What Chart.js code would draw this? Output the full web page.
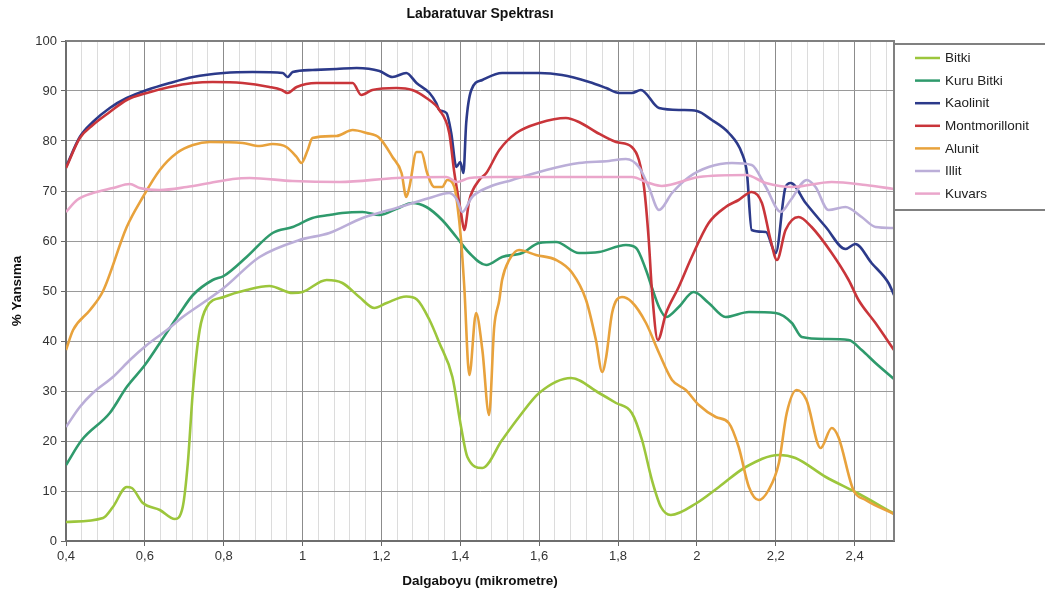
<!DOCTYPE html>
<html>
<head>
<meta charset="utf-8">
<script src="https://cdn.jsdelivr.net/npm/chart.js@4.4.1/dist/chart.umd.min.js"></script>
<style>
html,body{margin:0;padding:0;background:#fff;}
canvas{display:block;}
</style>
</head>
<body>
<canvas id="c" width="1045" height="598"></canvas>
<script>
const TITLE = 'Labaratuvar Spektrası';
const X_TITLE = 'Dalgaboyu (mikrometre)';
const Y_TITLE = '% Yansıma';
const seriesNames = ['Bitki', 'Kuru Bitki', 'Kaolinit', 'Montmorillonit', 'Alunit', 'Illit', 'Kuvars'];
const seriesColors = ['#9cc63c', '#2f9a6c', '#2c3a8a', '#c9353a', '#e8a23c', '#bbaed8', '#eaa6cb'];

const bitkiX = [0.40,0.494,0.519,0.554,0.567,0.595,0.638,0.676,0.696,0.709,0.722,0.739,0.757,0.80,0.858,0.916,0.975,1.0,1.061,1.101,1.144,1.182,1.213,1.263,1.29,1.322,1.347,1.38,1.402,1.418,1.456,1.506,1.549,1.60,1.681,1.752,1.795,1.835,1.861,1.886,1.909,1.934,2.0,2.056,2.124,2.208,2.25,2.327,2.402,2.5];
const bitkiY = [3.8,4.6,6.8,10.8,10.6,7.6,6.2,4.4,6.8,15.6,30.2,42.2,46.8,48.8,50.2,51,49.6,49.8,52.2,51.6,48.8,46.6,47.6,48.9,48.3,44.2,39.6,32.8,22.8,16.8,14.6,20.2,24.8,29.6,32.6,29.6,27.6,25.6,20.2,12.2,6.8,5.2,7.6,10.8,14.8,17.2,16.6,12.8,9.8,5.5];

const kuruX = [0.40,0.44,0.511,0.554,0.60,0.638,0.689,0.722,0.772,0.80,0.858,0.924,0.975,1.025,1.068,1.10,1.152,1.195,1.24,1.278,1.314,1.354,1.39,1.423,1.466,1.506,1.557,1.60,1.643,1.701,1.752,1.82,1.846,1.871,1.886,1.904,1.922,1.954,1.992,2.03,2.073,2.132,2.20,2.241,2.266,2.327,2.385,2.418,2.453,2.5];
const kuruY = [15.2,20.2,25.6,30.8,35.2,39.6,45.6,49.2,52.2,53,56.8,61.6,62.8,64.6,65.2,65.6,65.8,65.2,66.5,67.6,66.8,64.2,60.8,57.6,55.2,56.8,57.6,59.6,59.8,57.6,57.8,59.2,58.6,54.2,50.7,46.8,44.8,46.8,49.8,47.6,44.8,45.8,45.6,43.6,40.8,40.4,40.2,38.2,35.6,32.4];

const kaolinitX = [0.40,0.435,0.468,0.511,0.554,0.605,0.663,0.722,0.80,0.873,0.95,0.962,0.975,1.025,1.086,1.137,1.195,1.228,1.263,1.289,1.322,1.339,1.347,1.365,1.377,1.39,1.40,1.408,1.415,1.428,1.456,1.506,1.60,1.658,1.727,1.77,1.803,1.835,1.858,1.904,1.962,2.0,2.038,2.081,2.114,2.127,2.139,2.175,2.20,2.225,2.238,2.276,2.327,2.377,2.402,2.443,2.486,2.5];
const kaolinitY = [74.8,80.8,83.8,86.6,88.6,90.2,91.6,92.8,93.6,93.8,93.6,92.8,93.8,94.2,94.4,94.6,94,92.8,93.6,91.6,89.6,87.6,86.2,85.6,81.6,74.8,75.8,73.6,83.6,90.2,92.2,93.6,93.6,93.2,91.8,90.6,89.6,89.6,90.2,86.6,86.2,86,84.2,81.6,77.6,73.6,62.2,61.8,57.6,70.8,71.6,67.6,62.8,58.4,59.4,55.6,51.6,49.2];

const montX = [0.40,0.435,0.468,0.511,0.554,0.605,0.663,0.722,0.772,0.848,0.916,0.947,0.962,0.985,1.035,1.127,1.149,1.177,1.238,1.278,1.314,1.347,1.372,1.385,1.402,1.41,1.423,1.448,1.466,1.499,1.542,1.60,1.668,1.701,1.744,1.795,1.835,1.853,1.866,1.878,1.886,1.901,1.922,1.954,1.987,2.03,2.073,2.106,2.139,2.165,2.187,2.203,2.225,2.258,2.291,2.342,2.385,2.41,2.453,2.5];
const montY = [74.6,80.6,83.2,85.8,88.2,89.6,90.8,91.6,91.8,91.6,90.8,90.2,89.6,90.8,91.6,91.6,89.2,90.2,90.6,90.2,88.6,86.2,81.6,73.6,65.6,62.2,68.2,72.2,73.6,78.2,81.6,83.6,84.6,83.8,81.8,79.8,78.8,76.2,70.8,60.2,50.2,40.2,45.6,50.8,56.8,63.6,66.8,68.2,69.8,67.6,60.2,56.2,62.2,64.8,62.8,57.6,52.2,48.2,43.6,38.2];

const alunitX = [0.40,0.418,0.461,0.494,0.554,0.595,0.638,0.681,0.722,0.765,0.848,0.891,0.924,0.959,0.985,0.997,1.013,1.025,1.086,1.127,1.162,1.195,1.228,1.251,1.263,1.271,1.289,1.301,1.316,1.334,1.354,1.367,1.385,1.392,1.402,1.41,1.423,1.44,1.456,1.473,1.486,1.499,1.506,1.524,1.549,1.592,1.643,1.684,1.719,1.744,1.76,1.77,1.785,1.81,1.835,1.871,1.904,1.937,1.972,2.005,2.048,2.081,2.106,2.132,2.157,2.182,2.208,2.228,2.253,2.278,2.314,2.342,2.359,2.397,2.428,2.5];
const alunitY = [38.2,42.2,46.2,50,62.8,68.8,74.2,77.6,79.2,79.8,79.6,79,79.4,78.8,76.8,75.6,78.2,80.6,81,82.2,81.6,80.6,76.8,73.6,68.8,70.8,77.8,77.8,73.6,70.8,70.8,72.2,70.8,67.6,60.2,51,33.2,45.6,38.2,25.2,42.8,48.2,52.2,56.2,58.2,57.2,56.2,53.6,48.2,40.2,33.8,36.8,45.6,48.8,47.8,43.6,37.6,32.2,30.2,27.2,24.8,23.6,18.8,10.8,8.2,10.2,15.6,25.6,30.2,28.2,18.6,22.6,20.8,10.2,8.2,5.4];

const illitX = [0.40,0.435,0.468,0.519,0.562,0.605,0.656,0.696,0.747,0.80,0.891,0.992,1.068,1.152,1.238,1.322,1.372,1.392,1.405,1.43,1.473,1.532,1.618,1.701,1.777,1.82,1.853,1.878,1.904,1.937,1.98,2.03,2.089,2.139,2.175,2.213,2.238,2.279,2.301,2.334,2.377,2.418,2.453,2.5];
const illitY = [22.8,26.8,29.6,32.8,36.2,39.2,42.2,44.8,47.6,50.6,56.8,60.2,61.6,64.6,66.6,68.6,69.6,68.2,65.8,68.8,70.8,72.2,74.2,75.6,76,76.4,74.8,70.8,66.2,69.6,72.8,74.8,75.6,75.2,70.8,65.8,68.2,72.2,70.8,66.2,66.8,64.8,62.8,62.6];

const kuvarsX = [0.40,0.428,0.468,0.519,0.562,0.587,0.638,0.706,0.765,0.823,0.866,0.975,1.094,1.238,1.365,1.392,1.423,1.491,1.777,1.835,1.878,1.911,2.005,2.124,2.175,2.241,2.342,2.428,2.5];
const kuvarsY = [65.8,68.2,69.6,70.6,71.4,70.6,70.2,70.8,71.6,72.4,72.6,72,71.8,72.6,72.8,71.8,72.6,72.8,72.8,72.8,71.6,71,72.8,73.2,71.6,70.8,71.8,71.2,70.4];

const seriesX = [bitkiX, kuruX, kaolinitX, montX, alunitX, illitX, kuvarsX];
const seriesY = [bitkiY, kuruY, kaolinitY, montY, alunitY, illitY, kuvarsY];

const X_MIN = 0.4, X_MAX = 2.5, X_MINOR = 0.04;
const Y_MIN = 0, Y_MAX = 100, Y_STEP = 10;

const FONT = '"Liberation Sans", Arial, sans-serif';
const isMajor = v => Math.abs(v * 5 - Math.round(v * 5)) < 1e-6;
const fmt = v => String(Math.round(v * 10) / 10).replace('.', ',');

const frame = {
  id: 'frame',
  afterDraw(chart) {
    const c = chart.ctx, a = chart.chartArea;
    c.save();
    c.strokeStyle = '#808080';
    c.lineWidth = 2;
    c.beginPath();
    c.moveTo(a.left, a.top); c.lineTo(a.right, a.top); c.lineTo(a.right, a.bottom);
    c.stroke();
    // legend box
    const lx = a.right, ly = 44, lw = 200, lh = 166;
    c.fillStyle = '#fff';
    c.fillRect(lx, ly, lw, lh);
    c.strokeRect(lx, ly, lw, lh);
    c.font = '13.5px ' + FONT;
    c.textBaseline = 'middle';
    c.textAlign = 'left';
    seriesNames.forEach((n, i) => {
      const y = 58 + i * 22.6;
      c.strokeStyle = seriesColors[i];
      c.lineWidth = 2.5;
      c.beginPath(); c.moveTo(lx + 21, y); c.lineTo(lx + 46, y); c.stroke();
      c.fillStyle = '#222';
      c.fillText(n, lx + 51, y + 0.5);
    });
    c.restore();
  }
};

new Chart(document.getElementById('c'), {
  type: 'line',
  data: {
    datasets: seriesNames.map((n, i) => ({
      label: n,
      data: seriesX[i].map((x, j) => ({ x: x, y: seriesY[i][j] })),
      borderColor: seriesColors[i],
      backgroundColor: seriesColors[i],
      borderWidth: 2.6,
      pointRadius: 0,
      fill: false,
      cubicInterpolationMode: 'monotone',
      order: seriesNames.length - i
    }))
  },
  options: {
    responsive: false,
    animation: false,
    events: [],
    layout: { padding: { left: 0, right: 151, top: 0, bottom: 0 } },
    plugins: {
      legend: { display: false },
      tooltip: { enabled: false },
      title: {
        display: true, text: TITLE, fullSize: false, color: '#111',
        font: { family: FONT, size: 14, weight: 'bold' },
        padding: { top: 5.6, bottom: 18.6 }
      }
    },
    scales: {
      x: {
        type: 'linear', min: X_MIN, max: X_MAX,
        afterBuildTicks: s => {
          const t = [];
          for (let i = 0; X_MIN + i * X_MINOR < X_MAX + 1e-9; i++) t.push({ value: +(X_MIN + i * X_MINOR).toFixed(2) });
          if (t[t.length - 1].value < X_MAX) t.push({ value: X_MAX });
          s.ticks = t;
        },
        afterFit: s => { s.height = 57; },
        ticks: {
          autoSkip: false, maxRotation: 0, minRotation: 0, padding: 3,
          color: '#333', font: { family: FONT, size: 13 },
          callback: v => isMajor(v) ? fmt(v) : ''
        },
        grid: {
          color: ctx => (ctx.tick && isMajor(ctx.tick.value)) ? '#8c8c8c' : '#dcdcdc',
          tickColor: ctx => (ctx.tick && isMajor(ctx.tick.value)) ? '#666' : 'rgba(0,0,0,0)',
          tickLength: 5, lineWidth: 1
        },
        border: { color: '#6e6e6e', width: 2 },
        title: {
          display: true, text: X_TITLE, color: '#111',
          font: { family: FONT, size: 13.5, weight: 'bold' },
          padding: { top: 0, bottom: 8.9 }
        }
      },
      y: {
        min: Y_MIN, max: Y_MAX,
        afterFit: s => { s.width = 66; },
        ticks: { stepSize: Y_STEP, padding: 4, color: '#333', font: { family: FONT, size: 13 } },
        grid: { color: '#9a9a9a', tickColor: '#666', tickLength: 5, lineWidth: 1 },
        border: { color: '#6e6e6e', width: 2 },
        title: {
          display: true, text: Y_TITLE, color: '#111',
          font: { family: FONT, size: 13.5, weight: 'bold' },
          padding: { top: 8.9, bottom: 0 }
        }
      }
    }
  },
  plugins: [frame]
});
</script>
</body>
</html>
